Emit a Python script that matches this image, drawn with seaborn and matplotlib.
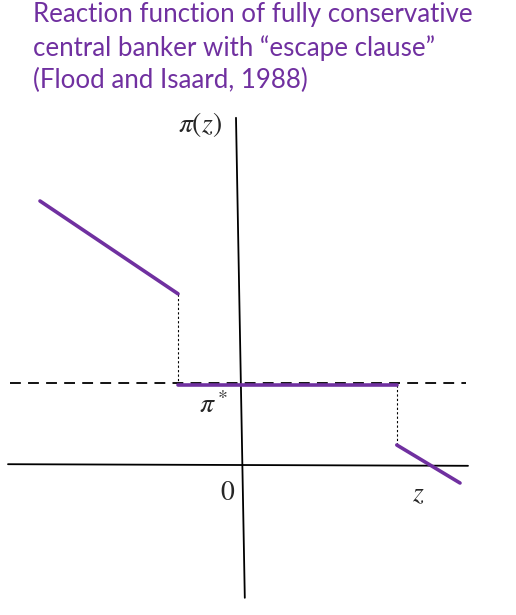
import numpy as np
import pandas as pd
import seaborn as sns
import matplotlib.pyplot as plt

# reaction function pieces (z on x, pi on y), schematic units
pi_star = 1.0
z_left = [-2.5, -0.775]
pi_left = [3.3, 2.14]
z_mid = [-0.775, 1.96]
pi_mid = [pi_star, pi_star]
z_right = [1.96, 2.75]
pi_right = [0.25, -0.225]

# axes / guides
z_axis = [-2.9, 2.85]
pi_axis_top, pi_axis_bottom = 4.34, -1.66
dash_z = [-2.875, 2.83]

title = "Reaction function of fully conservative\ncentral banker with \u201cescape clause\u201d\n(Flood and Isaard, 1988)"
purple = "#7030A0"

sns.set_style("white")
plt.rcParams['font.family'] = ['Lato', 'DejaVu Sans']
plt.rcParams['mathtext.fontset'] = 'stix'

fig = plt.figure(figsize=(5.16, 6.15), dpi=100)
ax = fig.add_axes([0, 0, 1, 1])
ax.set_xlim(-3.0, 3.45)
ax.set_ylim(-1.875, 5.8125)
ax.axis('off')

# axes lines
ax.plot(z_axis, [0.01, -0.01], color='black', lw=1.3)
ax.plot([-0.05, 0.06], [pi_axis_top, pi_axis_bottom], color='black', lw=1.3)
ax.plot(dash_z, [pi_star + 0.02] * 2, color='black', lw=1.3, dashes=(6, 4))

# dotted drops at the thresholds
ax.plot([z_left[1]] * 2, [pi_left[1], pi_star], color='black', lw=0.8, ls=(0, (2, 2)))
ax.plot([z_right[0]] * 2, [pi_star, pi_right[0]], color='black', lw=0.8, ls=(0, (2, 2)))

segs = pd.DataFrame({
    'z': z_left + z_mid + z_right,
    'pi': pi_left + pi_mid + pi_right,
    'seg': ['left'] * 2 + ['mid'] * 2 + ['right'] * 2,
})
sns.lineplot(data=segs, x='z', y='pi', units='seg', estimator=None, sort=False,
             color=purple, lw=2.6, ax=ax, legend=False)
ax.set_xlim(-3.0, 3.45)
ax.set_ylim(-1.875, 5.8125)

ax.text(-0.5, 4.25, r'$\pi(z)$', fontsize=20, ha='center', va='center')
ax.text(-0.33, 0.76, r'$\pi^*$', fontsize=20, ha='center', va='center')
ax.text(-0.15, -0.34, r'$0$', fontsize=20, ha='center', va='center')
ax.text(2.23, -0.35, r'$z$', fontsize=20, ha='center', va='center')

fig.text(33 / 516, 1 - 2 / 615, title, color=purple, fontsize=18.6, ha='left', va='top',
         linespacing=1.38)

fig.savefig('out.png', dpi=100)
